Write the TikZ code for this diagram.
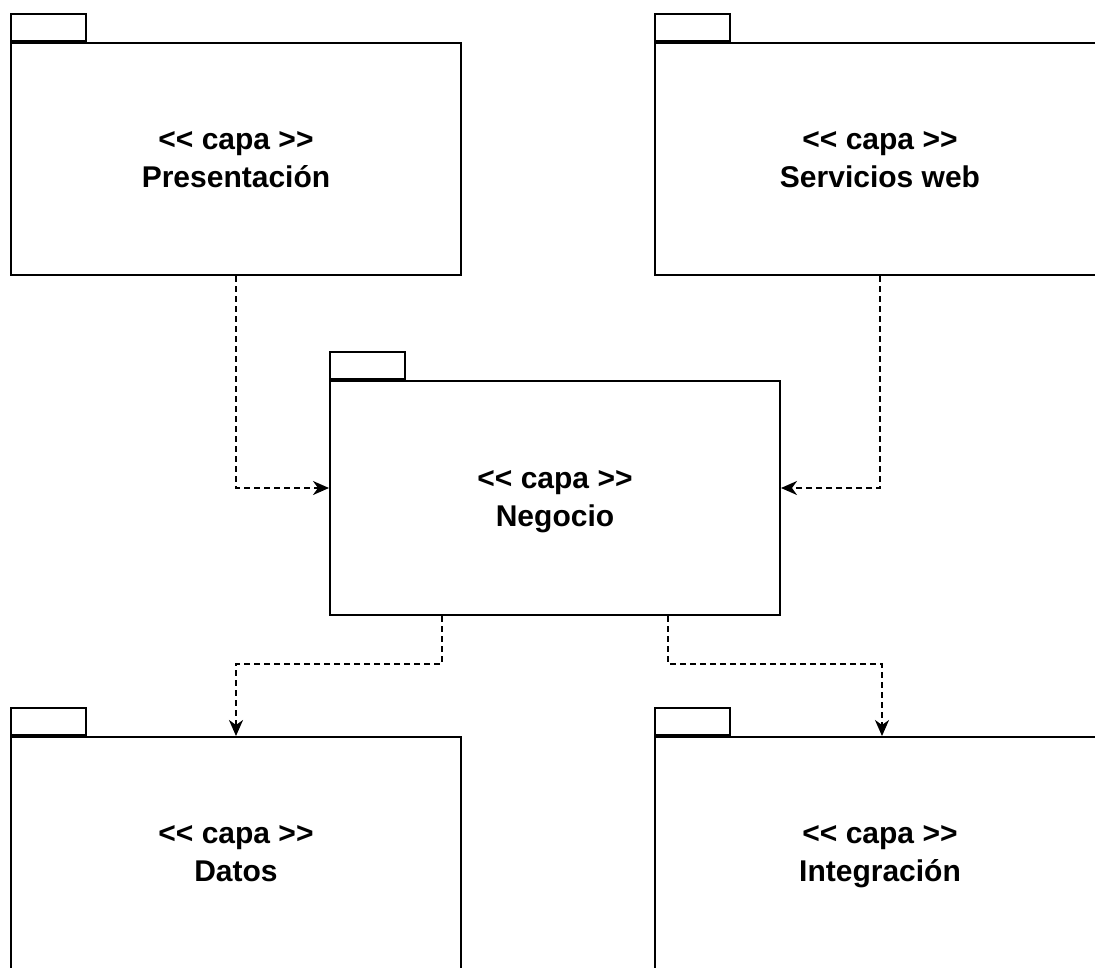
\documentclass[tikz,border=0pt]{standalone}
\usepackage{fontspec}
\setmainfont{Liberation Sans}[Ligatures=TeXOff]
\usetikzlibrary{
    arrows.meta,
    positioning,
    calc
}

\begin{document}
\begin{tikzpicture}[
    x=1pt, y=-1pt,
    pkg/.style={rectangle, draw, line width=2pt, minimum width=450pt, minimum height=232pt, anchor=north west, inner sep=0pt, align=center, text depth=0pt, font=\fontsize{30}{38}\selectfont\bfseries},
    pkgtab/.style={rectangle, draw, line width=2pt, minimum width=75pt, minimum height=27pt, anchor=south west, inner sep=0pt},
    dep/.style={-{Stealth[length=16pt, width=14pt, inset=5pt]}, line width=2pt, dash pattern=on 6pt off 4pt}
]
\path[use as bounding box, clip] (0,0) rectangle (1095,967);

% Layers
\node[pkg] (pres) at (10,42) {<< capa >>\\Presentación};
\node[pkg] (serv) at (654,42) {<< capa >>\\Servicios web};
\node[pkg, minimum height=234pt] (neg) at (329,380) {<< capa >>\\Negocio};
\node[pkg] (datos) at (10,736) {<< capa >>\\Datos};
\node[pkg] (integ) at (654,736) {<< capa >>\\Integración};

% Tabs
\node[pkgtab] (pres-tab) at (pres.north west) {};
\node[pkgtab] (serv-tab) at (serv.north west) {};
\node[pkgtab] (neg-tab) at (neg.north west) {};
\node[pkgtab] (datos-tab) at (datos.north west) {};
\node[pkgtab] (integ-tab) at (integ.north west) {};

% Dependencies
\coordinate (neg-out1) at ($(neg.south west)!0.25!(neg.south east)$);
\coordinate (neg-out2) at ($(neg.south west)!0.75!(neg.south east)$);
\draw[dep] (pres.south) |- ([yshift=10pt]neg.west);
\draw[dep] (serv.south) |- ([yshift=10pt]neg.east);
\draw[dep] (neg-out1) -- ++(0,48) -| (datos.north);
\draw[dep] (neg-out2) -- ++(0,48) -| ([xshift=2pt]integ.north);
\end{tikzpicture}
\end{document}
